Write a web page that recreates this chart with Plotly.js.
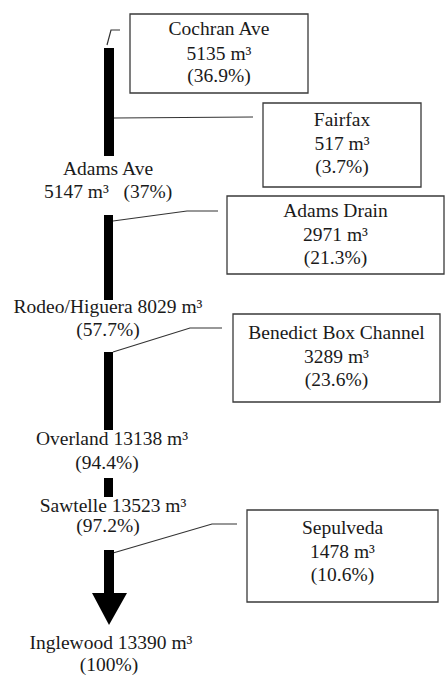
<!DOCTYPE html>
<html>
<head>
<meta charset="utf-8">
<script src="https://cdn.plot.ly/plotly-3.0.1.min.js"></script>
<style>html,body{margin:0;padding:0;background:#fff;}</style>
</head>
<body>
<div id="chart"></div>
<script>
// ---- data ----
const nodeNames = ["Adams Ave", "Rodeo/Higuera", "Overland", "Sawtelle", "Inglewood"];
const nodeVolumes = [5147, 8029, 13138, 13523, 13390];
const nodePercents = [37, 57.7, 94.4, 97.2, 100];

const inflowNames = ["Cochran Ave", "Fairfax", "Adams Drain", "Benedict Box Channel", "Sepulveda"];
const inflowVolumes = [5135, 517, 2971, 3289, 1478];
const inflowPercents = [36.9, 3.7, 21.3, 23.6, 10.6];

// ---- layout (pixel positions on a 446x678 canvas) ----
const nodeLabelStyle = ["stacked", "inline", "inline", "inline", "inline"];
const nodeLabelX = [108, 108, 112, 113, 111];
const nodeLabelX2 = [108, 108, 107, 108, 109];
const nodeLine1Y = [170, 308, 440, 507, 644];
const nodeLine2Y = [193, 331, 464, 527, 666];

// segments of the main channel: [x0, x1, y0, y1]
const channelSegments = [[104, 114, 48, 156], [104, 113, 215, 300], [104, 113, 352, 430], [104, 113, 478, 497], [104, 114, 550, 594]];
const arrowHead = {xl: 92, xr: 127, yb: 593, tip: [109, 625]};

// inflow boxes: [x0, y0, x1, y1]
const inflowBoxes = [[130, 14, 308, 93], [263, 103, 421, 187], [227, 196, 444, 274], [233, 314, 440, 402], [247, 510, 438, 602]];
const inflowLineY = [[30, 55, 77], [121, 145, 168], [212, 236, 259], [334, 358, 381], [529, 553, 576]];
const inflowLeaders = [
  [[107, 45], [111, 30], [120, 30]],
  [[114, 118], [253, 117]],
  [[113, 221], [187, 211], [218, 211]],
  [[113, 352], [190, 328], [222, 328]],
  [[113, 553], [212, 524], [237, 524]]
];

const unit = "m\u00B3";

// ---- build texts ----
const labels = [];
nodeNames.forEach((n, i) => {
  if (nodeLabelStyle[i] === "stacked") {
    labels.push([nodeLabelX[i], nodeLine1Y[i], n]);
    labels.push([nodeLabelX2[i], nodeLine2Y[i], nodeVolumes[i] + " " + unit + "\u00A0\u00A0\u00A0(" + nodePercents[i] + "%)"]);
  } else {
    labels.push([nodeLabelX[i], nodeLine1Y[i], n + " " + nodeVolumes[i] + " " + unit]);
    labels.push([nodeLabelX2[i], nodeLine2Y[i], "(" + nodePercents[i] + "%)"]);
  }
});
inflowNames.forEach((n, i) => {
  const b = inflowBoxes[i];
  const cx = (b[0] + b[2]) / 2;
  const lines = [n, inflowVolumes[i] + " " + unit, "(" + inflowPercents[i] + "%)"];
  lines.forEach((l, k) => labels.push([cx, inflowLineY[i][k], l]));
});

const traces = [];
inflowLeaders.forEach(pts => {
  traces.push({type: "scatter", mode: "lines", x: pts.map(p => p[0]), y: pts.map(p => p[1]),
    line: {color: "#333", width: 1.2}, hoverinfo: "skip", showlegend: false});
});
labels.forEach(l => {
  traces.push({type: "scatter", mode: "text", x: [l[0]], y: [l[1]], text: [l[2]],
    textposition: "middle center",
    textfont: {family: "Liberation Serif", size: 19.5, color: "#1a1a1a"},
    hoverinfo: "skip", showlegend: false});
});

const shapes = [];
channelSegments.forEach(s => {
  shapes.push({type: "rect", xref: "x", yref: "y", x0: s[0], x1: s[1], y0: s[2], y1: s[3],
    fillcolor: "#000", line: {width: 0}});
});
shapes.push({type: "path", xref: "x", yref: "y",
  path: `M${arrowHead.xl},${arrowHead.yb} L${arrowHead.xr},${arrowHead.yb} L${arrowHead.tip[0]},${arrowHead.tip[1]} Z`,
  fillcolor: "#000", line: {width: 0}});
inflowBoxes.forEach(b => {
  shapes.push({type: "rect", xref: "x", yref: "y", x0: b[0], y0: b[1], x1: b[2], y1: b[3],
    fillcolor: "rgba(0,0,0,0)", line: {color: "#3a3a3a", width: 1.3}});
});

const layout = {
  width: 446, height: 678,
  margin: {l: 0, r: 0, t: 0, b: 0},
  font: {family: "Liberation Serif", size: 19.5, color: "#1a1a1a"},
  paper_bgcolor: "#fff", plot_bgcolor: "#fff",
  xaxis: {range: [0, 446], visible: false},
  yaxis: {range: [678, 0], visible: false},
  shapes: shapes,
  showlegend: false
};
Plotly.newPlot("chart", traces, layout, {displayModeBar: false});
</script>
</body>
</html>
